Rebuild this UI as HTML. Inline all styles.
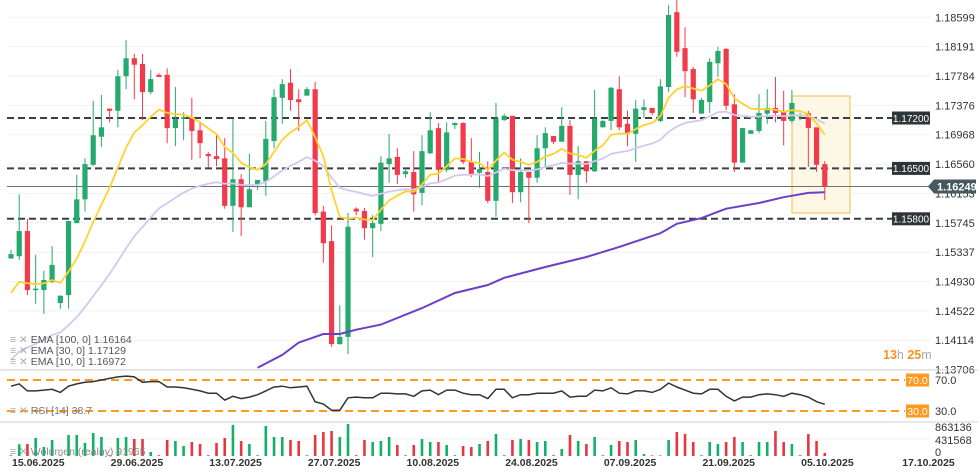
<!DOCTYPE html>
<html><head><meta charset="utf-8"><style>
body{margin:0;background:#fff;}
svg{display:block;font-family:"Liberation Sans",sans-serif;}
</style></head><body>
<svg id="chart" width="978" height="475" viewBox="0 0 978 475" xmlns="http://www.w3.org/2000/svg">
<defs><clipPath id="mainClip"><rect x="0" y="0" width="930" height="369"/></clipPath></defs>
<g id="grid"></g>
<rect x="792" y="96" width="58" height="117" fill="#fdf8e6" stroke="#f3c764" stroke-width="1.2"/>
<g id="levels"></g>
<g id="candles" clip-path="url(#mainClip)"></g>
<g id="emas" clip-path="url(#mainClip)"></g>
<g id="axis"></g>
<g id="rsi"></g>
<g id="vol"></g>
<g id="dates"></g>
<g font-size="10.5" fill="#555">
<text x="10" y="343"><tspan fill="#aaa">≡ ✕ </tspan>EMA [100, 0] 1.16164</text>
<text x="10" y="354"><tspan fill="#aaa">≡ ✕ </tspan>EMA [30, 0] 1.17129</text>
<text x="10" y="365"><tspan fill="#aaa">≡ ✕ </tspan>EMA [10, 0] 1.16972</text>
</g>
<text x="10" y="414" font-size="10.5" fill="#777"><tspan fill="#aaa">≡ ✕ </tspan>RSI [14] 38.7</text>
<text x="10" y="455" font-size="10.5" fill="#888"><tspan fill="#aaa">≡ ✕ </tspan>Wolumen (realny) 91965</text>
<text x="883" y="359" font-size="12.5"><tspan fill="#f7931a" font-weight="bold">13</tspan><tspan fill="#aaa">h </tspan><tspan fill="#f7931a" font-weight="bold">25</tspan><tspan fill="#aaa">m</tspan></text>
</svg>
<script>
const opens=[1.1525,1.1528,1.1563,1.1481,1.1481,1.1492,1.1463,1.1474,1.1574,1.1607,1.1655,1.1694,1.1733,1.1730,1.1778,1.1803,1.1795,1.1756,1.1780,1.1780,1.1706,1.1719,1.1720,1.1703,1.1670,1.1667,1.1664,1.1598,1.1635,1.1596,1.1628,1.1632,1.1688,1.1748,1.1769,1.1746,1.1751,1.1760,1.1590,1.1549,1.1406,1.1416,1.1594,1.1591,1.1567,1.1573,1.1656,1.1666,1.1642,1.1645,1.1616,1.1671,1.1706,1.1648,1.1710,1.1713,1.1659,1.1644,1.1645,1.1605,1.1717,1.1723,1.1617,1.1645,1.1637,1.1678,1.1695,1.1687,1.1709,1.1641,1.1660,1.1646,1.1707,1.1716,1.1760,1.1712,1.1698,1.1731,1.1734,1.1716,1.1763,1.1867,1.1817,1.1788,1.1726,1.1742,1.1796,1.1816,1.1739,1.1658,1.1698,1.1702,1.1726,1.1734,1.1728,1.1716,1.1723,1.1727,1.1707,1.1656];
const highs=[1.1537,1.1614,1.1580,1.1530,1.1508,1.1542,1.1474,1.1577,1.1641,1.1664,1.1744,1.1752,1.1733,1.1787,1.1828,1.1809,1.1809,1.1787,1.1782,1.1789,1.1763,1.1728,1.1748,1.1713,1.1673,1.1696,1.1692,1.1719,1.1642,1.1670,1.1634,1.1716,1.1760,1.1774,1.1788,1.1760,1.1763,1.1770,1.1598,1.1571,1.1460,1.1588,1.1596,1.1595,1.1585,1.1667,1.1698,1.1678,1.1648,1.1674,1.1696,1.1728,1.1713,1.1714,1.1714,1.1714,1.1692,1.1673,1.1660,1.1741,1.1726,1.1723,1.1664,1.1645,1.1696,1.1707,1.1695,1.1735,1.1717,1.1681,1.1660,1.1759,1.1717,1.1763,1.1778,1.1730,1.1745,1.1746,1.1734,1.1774,1.1877,1.1888,1.1846,1.1791,1.1748,1.1803,1.1819,1.1817,1.1753,1.1706,1.1703,1.1753,1.1760,1.1777,1.1758,1.1759,1.1727,1.1730,1.1707,1.1660];
const lows=[1.1524,1.1523,1.1474,1.1462,1.1448,1.1491,1.1455,1.1455,1.1574,1.1590,1.1653,1.1680,1.1714,1.1707,1.1760,1.1746,1.1717,1.1753,1.1777,1.1685,1.1681,1.1689,1.1662,1.1664,1.1651,1.1653,1.1594,1.1562,1.1556,1.1596,1.1620,1.1612,1.1678,1.1712,1.1730,1.1702,1.1751,1.1585,1.1519,1.1402,1.1405,1.1392,1.1585,1.1551,1.1527,1.1563,1.1630,1.1628,1.1637,1.1590,1.1599,1.1670,1.1631,1.1645,1.1705,1.1656,1.1638,1.1623,1.1602,1.1583,1.1716,1.1602,1.1603,1.1574,1.1630,1.1652,1.1684,1.1687,1.1613,1.1607,1.1630,1.1645,1.1707,1.1703,1.1703,1.1681,1.1659,1.1720,1.1724,1.1714,1.1756,1.1805,1.1749,1.1727,1.1726,1.1727,1.1777,1.1731,1.1645,1.1658,1.1698,1.1699,1.1712,1.1714,1.1682,1.1713,1.1717,1.1652,1.1645,1.1606];
const closes=[1.1531,1.1563,1.1481,1.1483,1.1495,1.1516,1.1473,1.1577,1.1607,1.1656,1.1696,1.1707,1.1730,1.1778,1.1803,1.1794,1.1756,1.1774,1.1777,1.1706,1.1719,1.1721,1.1702,1.1685,1.1667,1.1663,1.1598,1.1635,1.1596,1.1621,1.1634,1.1691,1.1749,1.1767,1.1745,1.1742,1.1760,1.1588,1.1546,1.1406,1.1416,1.1569,1.1590,1.1567,1.1574,1.1658,1.1664,1.1641,1.1646,1.1614,1.1674,1.1703,1.1648,1.1700,1.1713,1.1659,1.1642,1.1649,1.1605,1.1719,1.1723,1.1617,1.1645,1.1637,1.1678,1.1699,1.1687,1.1709,1.1641,1.1660,1.1646,1.1719,1.1716,1.1762,1.1707,1.1698,1.1733,1.1735,1.1727,1.1764,1.1863,1.1812,1.1785,1.1746,1.1745,1.1798,1.1813,1.1737,1.1658,1.1706,1.1703,1.1727,1.1734,1.1727,1.1716,1.1741,1.1724,1.1706,1.1655,1.16249];
const volumes=[20000,300000,305000,457000,228000,406000,20000,533000,533000,330000,584000,482000,20000,457000,482000,432000,432000,102000,20000,406000,381000,254000,355000,305000,20000,330000,457000,787000,381000,305000,20000,762000,482000,482000,406000,381000,20000,533000,609000,635000,482000,812000,20000,406000,355000,381000,482000,279000,20000,279000,432000,355000,355000,279000,20000,254000,228000,305000,381000,558000,20000,406000,432000,406000,355000,381000,20000,178000,533000,381000,305000,482000,20000,279000,381000,355000,406000,51000,15000,15000,406000,609000,558000,355000,20000,355000,305000,355000,482000,355000,20000,355000,355000,635000,355000,305000,20000,558000,381000,76000];
const rsiValues=[62,65,56,56,57,58,54,62,65,67,68,70,72,74,75,74,67,68,68,61,61,60,58,56,53,53,44,49,46,48,51,56,61,62,60,61,62,42,39,31,31,47,48,47,47,53,53,52,52,49,56,57,51,57,57,53,51,51,46,58,58,47,51,51,53,53,53,56,48,49,49,57,56,60,53,52,56,56,54,58,66,61,57,53,52,58,58,49,43,48,48,51,52,51,49,53,51,48,42,38.7];
const ema100Idx=[30,33,35,38,40,42,45,50,54,58,60,65,70,74,79,81,84,87,91,94,97,99];
const ema100Vals=[1.1373,1.1391,1.1408,1.1420,1.1420,1.1426,1.1433,1.1456,1.1477,1.1488,1.1498,1.1513,1.1527,1.1541,1.1560,1.1573,1.1581,1.1594,1.1602,1.1610,1.1616,1.1617];
const ema10Seed=1.1477, ema30Seed=1.1384;
const priceTicks=[1.18599,1.18191,1.17784,1.17376,1.16968,1.16560,1.16153,1.15745,1.15337,1.14930,1.14522,1.14114,1.13706];
const levelPrices=[1.172,1.165,1.158];
const levelLabels=["1.17200","1.16500","1.15800"];
const currentPrice=1.16249;
const dateLabels=["15.06.2025","29.06.2025","13.07.2025","27.07.2025","10.08.2025","24.08.2025","07.09.2025","21.09.2025","05.10.2025","17.10.2025"];
const dateIdx=[0,12,24,36,48,60,72,84,96,108.3];
const volTicks=[863136,431568,0];
const rsiLevels=[70,30];

const NS="http://www.w3.org/2000/svg";
function mk(tag,attrs,parent){const e=document.createElementNS(NS,tag);for(const k in attrs)e.setAttribute(k,attrs[k]);parent.appendChild(e);return e;}
const xOf=i=>11+i*8.22;
const yP=p=>118+(1.172-p)*7200;
const yR=v=>380+(70-v)*0.775;
const yV=v=>456-v/431568*17;
const GREEN="#26a96c",RED="#f23a4a";

const grid=document.getElementById('grid'),axis=document.getElementById('axis');
priceTicks.forEach(t=>{
  const l=mk('line',{x1:7,x2:930,y1:yP(t),y2:yP(t),stroke:'#f1f1f1','stroke-width':1},grid);
  
  
  const tx=mk('text',{x:935,y:yP(t)+4,'font-size':11,fill:'#333'},axis);
  tx.textContent=t.toFixed(5);
  
  
});
const levels=document.getElementById('levels');
levelPrices.forEach((p,i)=>{
  const l=mk('line',{x1:7,x2:892,y1:yP(p),y2:yP(p),stroke:'#3a3f42','stroke-width':2,'stroke-dasharray':'7,4'},levels);
  
  
  const r=mk('rect',{x:892,y:yP(p)-6.5,width:38,height:13,fill:'#2e3538'},axis);
  
  
  const t=mk('text',{x:911,y:yP(p)+3.8,'font-size':10,fill:'#fff','text-anchor':'middle'},axis);
  t.textContent=levelLabels[i];
  
  
});
const cy=yP(currentPrice);
const cl=mk('line',{x1:7,x2:930,y1:cy,y2:cy,stroke:'#6b7275','stroke-width':1},levels);


const cp=mk('path',{d:`M928 ${cy} L934 ${cy-7} L976 ${cy-7} L976 ${cy+7} L934 ${cy+7} Z`,fill:'#465961'},axis);


const ct=mk('text',{x:937,y:cy+4,'font-size':11,fill:'#fff','font-weight':'bold'},axis);
ct.textContent=currentPrice.toFixed(5);



const cg=document.getElementById('candles');
closes.forEach((c,i)=>{
  const o=opens[i],col=c>=o?GREEN:RED,x=xOf(i);
  const w=mk('line',{x1:x,x2:x,y1:yP(highs[i]),y2:yP(lows[i]),stroke:col,'stroke-width':1},cg);
  
  
  const top=yP(Math.max(o,c)),h=Math.max(1.5,Math.abs(yP(o)-yP(c)));
  const b=mk('rect',{x:x-2.6,y:top,width:5.2,height:h,fill:col},cg);
  
  
});

const eg=document.getElementById('emas');
function emaCalc(seed,n){const a=2/(n+1);const out=[seed];for(let i=1;i<closes.length;i++)out.push(out[i-1]+a*(closes[i]-out[i-1]));return out;}
const e30=emaCalc(ema30Seed,30),e10=emaCalc(ema10Seed,10);
const pl=(xs,ys)=>xs.map((x,i)=>x.toFixed(1)+','+ys[i].toFixed(1)).join(' ');
const l30=mk('polyline',{points:pl(e30.map((_,i)=>xOf(i)),e30.map(yP)),fill:'none',stroke:'#d4c8ef','stroke-width':1.8},eg);


const l100=mk('polyline',{points:pl(ema100Idx.map(xOf),ema100Vals.map(yP)),fill:'none',stroke:'#6b3fc7','stroke-width':2},eg);


const l10=mk('polyline',{points:pl(e10.map((_,i)=>xOf(i)),e10.map(yP)),fill:'none',stroke:'#ffd22e','stroke-width':1.8},eg);



const svg=document.getElementById('chart');
[370,422].forEach(y=>{const s=mk('line',{x1:0,x2:978,y1:y,y2:y,stroke:'#d0d0d0','stroke-width':1},svg);

});

const rg=document.getElementById('rsi');
rsiLevels.forEach(v=>{
  const l=mk('line',{x1:7,x2:905,y1:yR(v),y2:yR(v),stroke:'#ff9a1f','stroke-width':2,'stroke-dasharray':'8,5'},rg);
  
  
  const r=mk('rect',{x:906,y:yR(v)-6.5,width:23,height:13,fill:'#ff9a1f'},rg);
  
  
  const t=mk('text',{x:917.5,y:yR(v)+4,'font-size':10.5,fill:'#fff','text-anchor':'middle'},rg);
  t.textContent=v.toFixed(1);
  
  
  const t2=mk('text',{x:935,y:yR(v)+4,'font-size':11,fill:'#333'},rg);
  t2.textContent=v.toFixed(1);
  
  
});
const rl=mk('polyline',{points:pl(rsiValues.map((_,i)=>xOf(i)),rsiValues.map(yR)),fill:'none',stroke:'#2f3538','stroke-width':1.5},rg);



const vg=document.getElementById('vol');
const volLabelOffsets=[9,5,0];
volTicks.forEach((v,i)=>{
  if(v>0&&v<800000){const g=mk('line',{x1:7,x2:930,y1:yV(v),y2:yV(v),stroke:'#f1f1f1'},vg);
  
  }
  const t=mk('text',{x:935,y:yV(v)+volLabelOffsets[i],'font-size':11,fill:'#333'},vg);
  t.textContent=String(v);
  
  
});
volumes.forEach((v,i)=>{
  const col=closes[i]>=opens[i]?'#14b06a':'#e8363f';
  const b=mk('rect',{x:xOf(i)-1.3,y:yV(v),width:2.6,height:456-yV(v),fill:col},vg);
  
  
});

const dg=document.getElementById('dates');
dateLabels.forEach((d,i)=>{
  const t=mk('text',{x:xOf(dateIdx[i])+1,y:466,'font-size':10.5,fill:'#333','font-weight':'bold'},dg);
  t.textContent=d;
  
  
});
</script>
</body></html>
